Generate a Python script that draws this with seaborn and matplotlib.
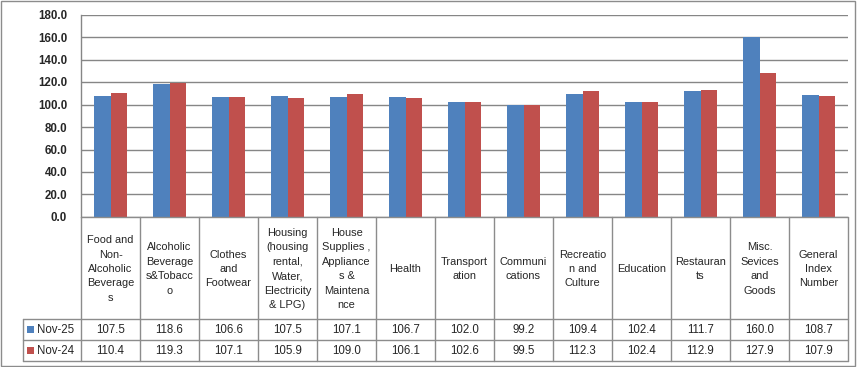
import matplotlib
matplotlib.use("Agg")
import matplotlib.pyplot as plt
import seaborn as sns
import pandas as pd
from matplotlib.patches import Rectangle
from matplotlib.lines import Line2D

categories = [
    "Food and\nNon-\nAlcoholic\nBeverage\ns",
    "Alcoholic\nBeverage\ns&Tobacc\no",
    "Clothes\nand\nFootwear",
    "Housing\n(housing\nrental,\nWater,\nElectricity\n& LPG)",
    "House\nSupplies ,\nAppliance\ns &\nMaintena\nnce",
    "Health",
    "Transport\nation",
    "Communi\ncations",
    "Recreatio\nn and\nCulture",
    "Education",
    "Restauran\nts",
    "Misc.\nSevices\nand\nGoods",
    "General\nIndex\nNumber",
]
series_names = ["Nov-25", "Nov-24"]
nov25 = [107.5, 118.6, 106.6, 107.5, 107.1, 106.7, 102.0, 99.2, 109.4, 102.4, 111.7, 160.0, 108.7]
nov24 = [110.4, 119.3, 107.1, 105.9, 109.0, 106.1, 102.6, 99.5, 112.3, 102.4, 112.9, 127.9, 107.9]
yticks = [0, 20, 40, 60, 80, 100, 120, 140, 160, 180]
colors = ["#4F81BD", "#C0504D"]

df = pd.DataFrame({
    "cat": categories * 2,
    "series": [series_names[0]] * len(categories) + [series_names[1]] * len(categories),
    "value": nov25 + nov24,
})

sns.set_style("white")
plt.rcParams["font.family"] = ["Liberation Sans", "DejaVu Sans"]

W, H = 865, 367
fig = plt.figure(figsize=(W / 100, H / 100), dpi=100)

def fy(py):
    return 1 - py / H

x0, x1 = 81, 848
ytop, ybot = 14.5, 217
ax = fig.add_axes([x0 / W, fy(ybot), (x1 - x0) / W, (ybot - ytop) / H])
sns.barplot(data=df, x="cat", y="value", hue="series", palette=colors,
            width=0.571, gap=0, saturation=1, legend=False, ax=ax, order=categories,
            hue_order=series_names, linewidth=0, edgecolor="none")
ax.set_xlim(-0.5, len(categories) - 0.5)
ax.set_ylim(0, 180)
ax.set_yticks(yticks)
ax.set_yticklabels([f"{v:.1f}" for v in yticks], fontsize=8.3, fontweight="bold")
ax.tick_params(axis="y", length=0, pad=10)
ax.set_xticks([])
ax.set_xlabel("")
ax.set_ylabel("")
ax.grid(axis="y", color="#868686", linewidth=1)
ax.set_axisbelow(True)
for s in ["top", "right", "bottom"]:
    ax.spines[s].set_visible(False)
ax.spines["left"].set_color("#868686")
ax.spines["left"].set_linewidth(1)

# data table
r0, r1, r2, r3 = 217, 319, 340, 361
n = len(categories)
tax = fig.add_axes([x0 / W, fy(r3), (x1 - x0) / W, (r3 - r0) / H])
tax.set_xlim(-0.5, n - 0.5)
tax.set_ylim(r3, r0)
tax.axis("off")
lc = "#8C8C8C"
catw = (x1 - x0) / n
xl = -0.5 + (23 - x0) / catw
for i in range(n + 1):
    tax.add_line(Line2D([i - 0.5, i - 0.5], [r0, r3], color=lc, lw=1, clip_on=False))
tax.add_line(Line2D([xl, xl], [r1, r3], color=lc, lw=1, clip_on=False))
tax.add_line(Line2D([-0.5, n - 0.5], [r0, r0], color=lc, lw=1, clip_on=False))
for yy in [r1, r2, r3]:
    tax.add_line(Line2D([xl, n - 0.5], [yy, yy], color=lc, lw=1, clip_on=False))

tc = "#262626"
fs = 8.3
for i, c in enumerate(categories):
    tax.text(i, (r0 + r1) / 2 + 1, c, ha="center", va="center", fontsize=7.9,
             linespacing=1.55, color=tc)
    tax.text(i, (r1 + r2) / 2 + 0.5, f"{nov25[i]:.1f}", ha="center", va="center", fontsize=fs, color=tc)
    tax.text(i, (r2 + r3) / 2 + 0.5, f"{nov24[i]:.1f}", ha="center", va="center", fontsize=fs, color=tc)

for k, (name, col) in enumerate(zip(series_names, colors)):
    yc = (r1 + r2) / 2 if k == 0 else (r2 + r3) / 2
    sx = -0.5 + (27 - x0) / catw
    sw = 7 / catw
    tax.add_patch(Rectangle((sx, yc - 3.5), sw, 7, facecolor=col, edgecolor="none", clip_on=False))
    tax.text(-0.5 + (37 - x0) / catw, yc + 0.5, name, ha="left", va="center", fontsize=fs, color=tc, clip_on=False)

# outer chart frame
fig.add_artist(Rectangle((1 / W, fy(366)), 854 / W, 365 / H, transform=fig.transFigure,
                         facecolor="none", edgecolor="#8C8C8C", lw=1))

fig.savefig("out.png", dpi=100)
